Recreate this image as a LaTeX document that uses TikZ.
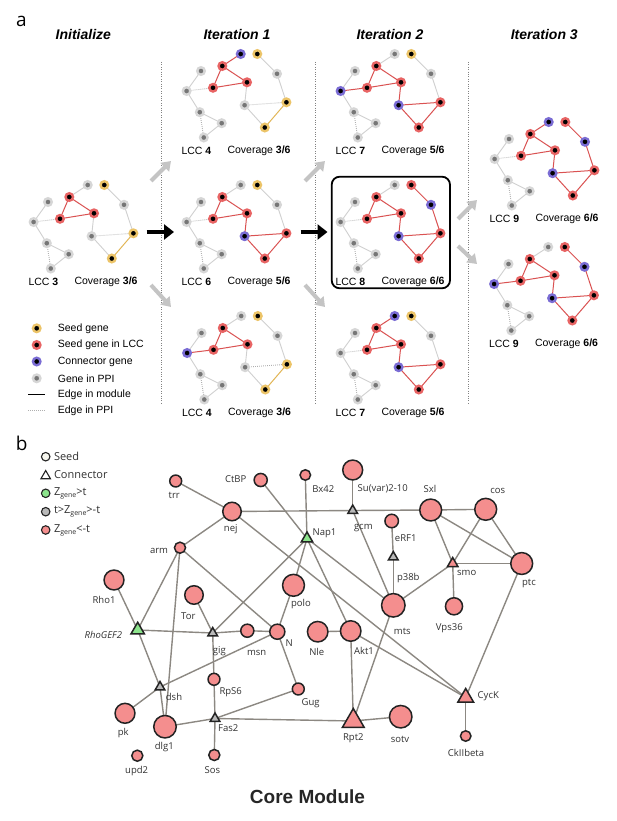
\documentclass[tikz,border=0pt]{standalone}
\usepackage{fontspec}
\newfontfamily\arial{Liberation Sans}
\newfontfamily\osans{Open Sans}
\usetikzlibrary{shapes.geometric,arrows.meta}
\pgfdeclarelayer{back}
\pgfdeclarelayer{bg}
\pgfsetlayers{back,bg,main}
\definecolor{ringgray}{RGB}{214,214,214}
\definecolor{coregray}{RGB}{118,118,118}
\definecolor{ringyel}{RGB}{236,196,104}
\definecolor{ringred}{RGB}{232,100,100}
\definecolor{ringpur}{RGB}{122,108,212}
\definecolor{edgegray}{RGB}{208,208,208}
\definecolor{edgedot}{RGB}{175,175,175}
\definecolor{edgered}{RGB}{218,82,82}
\definecolor{edgeyel}{RGB}{226,182,86}
\definecolor{arrgray}{RGB}{196,196,196}
\definecolor{sepgray}{RGB}{130,130,130}
\definecolor{bpink}{RGB}{244,142,142}
\definecolor{bborder}{RGB}{35,35,35}
\definecolor{bedgec}{RGB}{140,136,130}
\definecolor{bgreen}{RGB}{140,228,140}
\definecolor{btrigray}{RGB}{185,185,185}
\definecolor{bseed}{RGB}{246,246,238}
\definecolor{blabel}{RGB}{50,50,50}
\tikzset{
  anode/.style={circle, inner sep=0pt, minimum size=7.5pt, line width=2.4pt},
  gnode/.style={anode, draw=ringgray, fill=coregray},
  ynode/.style={anode, draw=ringyel, fill=black},
  rnode/.style={anode, draw=ringred, fill=black},
  pnode/.style={anode, draw=ringpur, fill=black},
  ppi/.style={draw=edgegray, line width=0.9pt},
  ppidot/.style={draw=edgedot, line width=0.9pt, dash pattern=on 0.8pt off 1.2pt},
  modred/.style={draw=edgered, line width=1pt},
  modyel/.style={draw=edgeyel, line width=1pt},
  alabel/.style={font=\arial\fontsize{10.5}{12}\selectfont, inner sep=0pt},
  atitle/.style={font=\arial\fontsize{14}{16}\selectfont\bfseries\itshape, inner sep=0pt},
  sepline/.style={draw=sepgray, line width=0.8pt, dash pattern=on 0.8pt off 1.6pt},
  blackarrow/.style={draw=black, line width=4pt, -{Triangle[length=10pt,width=15pt]}},
  grayarrow/.style={draw=arrgray, line width=4pt, -{Triangle[length=9pt,width=12pt]}},
  stB/.style={sg5/.style=pnode, sy2/.style=rnode, sy3/.style=rnode, pe13/.style=modred, pe14/.style=modred, pe15/.style=modred, pe16/.style=modred},
  stC/.style={sg3/.style=pnode, sy1/.style=rnode, pe11/.style=modred, pe12/.style=modred},
  stT/.style={sg1/.style=pnode, pe1/.style=modred},
  stL/.style={sg4/.style=pnode, pe6/.style=modred},
  bcirc/.style={circle, draw=bborder, line width=1.5pt, fill=bpink, inner sep=0pt},
  btri/.style={regular polygon, regular polygon sides=3, draw=bborder, line width=1.5pt, inner sep=0pt},
  btgray/.style={btri, fill=btrigray, minimum size=11pt},
  btgreen/.style={btri, fill=bgreen},
  btred/.style={btri, fill=bpink},
  bedge/.style={draw=bedgec, line width=1.4pt},
  blbl/.style={font=\osans\fontsize{9.5}{11}\selectfont, text=blabel, inner sep=0pt},
  bleg/.style={font=\osans\fontsize{11}{13}\selectfont, text=blabel, inner sep=0pt, anchor=west},
  plabel/.style={font=\osans\fontsize{19}{22}\selectfont, inner sep=0pt},
}
% one network panel of part a
\newcommand\apanel[6]{%
  \begin{scope}[shift={(#2,#3)}]
  \tikzset{sg1/.style=gnode, sy1/.style=ynode, sr1/.style=rnode, sg2/.style=gnode,
    sg3/.style=gnode, sr2/.style=rnode, sr3/.style=rnode, sg4/.style=gnode,
    sg5/.style=gnode, sy2/.style=ynode, sg6/.style=gnode, sg7/.style=gnode,
    sy3/.style=ynode, sg8/.style=gnode,
    pe1/.style=ppi, pe2/.style=modred, pe3/.style=modred, pe4/.style=modred,
    pe5/.style=ppi, pe6/.style=ppidot, pe7/.style=ppi, pe8/.style=ppi,
    pe9/.style=ppidot, pe10/.style=ppi, pe11/.style=ppi, pe12/.style=ppi,
    pe13/.style=ppi, pe14/.style=ppidot, pe15/.style=modyel, pe16/.style=ppi}%
  \tikzset{#6}%
  \node[sg1] (#1g1) at (87.7,185) {};
  \node[sy1] (#1y1) at (104.3,185) {};
  \node[sr1] (#1r1) at (69.3,197) {};
  \node[sg2] (#1g2) at (48,202) {};
  \node[sg3] (#1g3) at (124,204.8) {};
  \node[sr2] (#1r2) at (94,213.3) {};
  \node[sr3] (#1r3) at (60,218.8) {};
  \node[sg4] (#1g4) at (33.6,222) {};
  \node[sg5] (#1g5) at (91.6,236.2) {};
  \node[sy2] (#1y2) at (133.4,233.3) {};
  \node[sg6] (#1g6) at (46.8,243.2) {};
  \node[sg7] (#1g7) at (68.7,254.2) {};
  \node[sy3] (#1y3) at (111.8,258.5) {};
  \node[sg8] (#1g8) at (50.8,268.5) {};
  \begin{pgfonlayer}{bg}
  \draw[pe1] (#1g1.center) -- (#1r1.center);
  \draw[pe2] (#1r1.center) -- (#1r2.center);
  \draw[pe3] (#1r1.center) -- (#1r3.center);
  \draw[pe4] (#1r3.center) -- (#1r2.center);
  \draw[pe5] (#1g2.center) -- (#1g4.center);
  \draw[pe6] (#1g4.center) -- (#1r3.center);
  \draw[pe7] (#1g4.center) -- (#1g6.center);
  \draw[pe8] (#1g6.center) -- (#1g7.center);
  \draw[pe9] (#1g6.center) -- (#1g8.center);
  \draw[pe10] (#1g7.center) -- (#1g8.center);
  \draw[pe11] (#1y1.center) -- (#1g3.center);
  \draw[pe12] (#1g3.center) -- (#1y2.center);
  \draw[pe13] (#1r2.center) -- (#1g5.center);
  \draw[pe14] (#1g5.center) -- (#1y2.center);
  \draw[pe15] (#1y2.center) -- (#1y3.center);
  \draw[pe16] (#1g5.center) -- (#1y3.center);
  \end{pgfonlayer}
  \node[alabel, anchor=west] (#1lcc) at (28.3,282) {LCC \textbf{#4}};
  \node[alabel, anchor=west] (#1cov) at (74.3,282) {Coverage \textbf{#5}};
  \end{scope}}
\begin{document}
\begin{tikzpicture}[x=1pt,y=-1pt]
\useasboundingbox (0,0) rectangle (617,821);
\begin{pgfonlayer}{back}
\fill[white] (0,0) rectangle (617,821);
\end{pgfonlayer}

% ---------------- panel a ----------------
\node[plabel] (la) at (21.3,21) {a};
\node[atitle] (t0) at (83.3,34) {Initialize};
\node[atitle] (t1) at (237,34) {Iteration 1};
\node[atitle] (t2) at (390,34) {Iteration 2};
\node[atitle] (t3) at (544.3,34) {Iteration 3};

\coordinate (s1a) at (161,62); \coordinate (s1b) at (161,403);
\coordinate (s2a) at (315,62); \coordinate (s2b) at (315,403);
\coordinate (s3a) at (468,62); \coordinate (s3b) at (468,403);
\draw[sepline] (s1a) -- (s1b);
\draw[sepline] (s2a) -- (s2b);
\draw[sepline] (s3a) -- (s3b);

\apanel{p0}{0}{0}{3}{3/6}{}
\apanel{p1}{153}{-131}{4}{3/6}{stT}
\apanel{p2}{153}{0}{6}{5/6}{stB}
\apanel{p3}{153.5}{131}{4}{3/6}{stL}
\apanel{p4}{307}{-131}{7}{5/6}{stB,stL}
\apanel{p5}{307}{0}{8}{6/6}{stB,stC}
\apanel{p6}{307}{131}{7}{5/6}{stB,stT}
\apanel{p7}{461}{-63}{9}{6/6}{stB,stC,stT}
\apanel{p8}{460.5}{62}{9}{6/6}{stB,stC,stL}

\draw[line width=1.8pt, rounded corners=8pt] (331.7,176.7) rectangle (450,288.3);

\coordinate (ba1s) at (146.5,232); \coordinate (ba1e) at (174,232);
\coordinate (ba2s) at (300.5,232); \coordinate (ba2e) at (327.5,232);
\draw[blackarrow] (ba1s) -- (ba1e);
\draw[blackarrow] (ba2s) -- (ba2e);
\coordinate (ga1s) at (151,181); \coordinate (ga1e) at (171,161);
\coordinate (ga2s) at (151,285); \coordinate (ga2e) at (171,307);
\coordinate (ga3s) at (305,181); \coordinate (ga3e) at (325,161);
\coordinate (ga4s) at (305,285); \coordinate (ga4e) at (325,307);
\coordinate (ga5s) at (458,219); \coordinate (ga5e) at (477,200);
\coordinate (ga6s) at (458,246); \coordinate (ga6e) at (477,264);
\draw[grayarrow] (ga1s) -- (ga1e);
\draw[grayarrow] (ga2s) -- (ga2e);
\draw[grayarrow] (ga3s) -- (ga3e);
\draw[grayarrow] (ga4s) -- (ga4e);
\draw[grayarrow] (ga5s) -- (ga5e);
\draw[grayarrow] (ga6s) -- (ga6e);

% legend a
\node[ynode] (lga1) at (36.7,328.3) {};
\node[rnode] (lga2) at (36.7,345) {};
\node[pnode] (lga3) at (36.7,361.5) {};
\node[gnode] (lga4) at (36.7,378.3) {};
\coordinate (lm1) at (28,394.5); \coordinate (lm2) at (45,394.5);
\coordinate (lp1) at (28,410.5); \coordinate (lp2) at (45,410.5);
\draw[black, line width=1.5pt] (lm1) -- (lm2);
\draw[ppidot] (lp1) -- (lp2);
\node[alabel, anchor=west] (lta1) at (57.7,328.3) {Seed gene};
\node[alabel, anchor=west] (lta2) at (57.7,345) {Seed gene in LCC};
\node[alabel, anchor=west] (lta3) at (57.7,361.5) {Connector gene};
\node[alabel, anchor=west] (lta4) at (57.7,378.3) {Gene in PPI};
\node[alabel, anchor=west] (lta5) at (57.7,394.5) {Edge in module};
\node[alabel, anchor=west] (lta6) at (57.7,410.5) {Edge in PPI};

% ---------------- panel b ----------------
\node[plabel] (lb) at (21.7,443) {b};
\node[circle, draw=bborder, fill=bseed, line width=1.1pt, minimum size=8.5pt, inner sep=0pt] (lgb1) at (45.7,456.7) {};
\node[regular polygon, regular polygon sides=3, draw=bborder, fill=white, line width=1.1pt, minimum size=11pt, inner sep=0pt] (lgb2) at (45.7,476) {};
\node[circle, draw=bborder, fill=bgreen, line width=1.1pt, minimum size=8.5pt, inner sep=0pt] (lgb3) at (45.7,493.3) {};
\node[circle, draw=bborder, fill=btrigray, line width=1.1pt, minimum size=8.5pt, inner sep=0pt] (lgb4) at (45.7,511.7) {};
\node[circle, draw=bborder, fill=bpink, line width=1.1pt, minimum size=8.5pt, inner sep=0pt] (lgb5) at (45.7,530) {};
\node[bleg] (ltb1) at (53.8,456.7) {Seed};
\node[bleg] (ltb2) at (53.8,475) {Connector};
\node[bleg] (ltb3) at (53.8,493.3) {Z\raisebox{-0.35ex}{\fontsize{7}{8}\selectfont gene}>t};
\node[bleg] (ltb4) at (53.8,511.7) {t>Z\raisebox{-0.35ex}{\fontsize{7}{8}\selectfont gene}>-t};
\node[bleg] (ltb5) at (53.8,530) {Z\raisebox{-0.35ex}{\fontsize{7}{8}\selectfont gene}<-t};

% circles
\node[bcirc, minimum size=11.9pt] (trr) at (175.7,481) {};
\node[bcirc, minimum size=13.1pt] (ctbp) at (260.7,480) {};
\node[bcirc, minimum size=10.5pt] (bx42) at (305.3,475) {};
\node[bcirc, minimum size=19.9pt] (suvar) at (352.7,470) {};
\node[bcirc, minimum size=18.5pt] (nej) at (232,511.5) {};
\node[bcirc, minimum size=21.9pt] (sxl) at (430.7,510) {};
\node[bcirc, minimum size=21.9pt] (cos) at (485.7,509.3) {};
\node[bcirc, minimum size=13.5pt] (erf1) at (391.7,521) {};
\node[bcirc, minimum size=11.1pt] (arm) at (180,547.7) {};
\node[bcirc, minimum size=21.9pt] (ptc) at (521.7,563.5) {};
\node[bcirc, minimum size=19.9pt] (rho1) at (114,580) {};
\node[bcirc, minimum size=21.9pt] (polo) at (293.5,585.3) {};
\node[bcirc, minimum size=18.5pt] (tor) at (194,595) {};
\node[bcirc, minimum size=23.5pt] (mts) at (393.3,605.3) {};
\node[bcirc, minimum size=17.1pt] (vps36) at (454,606.3) {};
\node[bcirc, minimum size=13.1pt] (msn) at (247.3,630.7) {};
\node[bcirc, minimum size=15.1pt] (n) at (277.3,631.7) {};
\node[bcirc, minimum size=20.5pt] (nle) at (317.7,631.7) {};
\node[bcirc, minimum size=20.5pt] (akt1) at (350.7,631) {};
\node[bcirc, minimum size=11.9pt] (rps6) at (214,679.3) {};
\node[bcirc, minimum size=11.9pt] (gug) at (298.3,689) {};
\node[bcirc, minimum size=19.9pt] (pk) at (125,713.3) {};
\node[bcirc, minimum size=22.5pt] (dlg1) at (165,726.7) {};
\node[bcirc, minimum size=22.5pt] (sotv) at (400.7,716.7) {};
\node[bcirc, minimum size=10.5pt] (ck2b) at (465.7,736) {};
\node[bcirc, minimum size=11.1pt] (upd2) at (137.3,755.7) {};
\node[bcirc, minimum size=11.1pt] (sos) at (214.3,755) {};
% triangles
\node[btgray] (gcm) at (352.7,510.5) {};
\node[btgreen, minimum size=13pt] (nap1) at (307,538.5) {};
\node[btgray] (p38b) at (393.3,557) {};
\node[btred, minimum size=12pt] (smo) at (452.7,563.5) {};
\node[btgreen, minimum size=15.5pt] (rhogef2) at (137.7,630) {};
\node[btgray] (gig) at (212.7,633) {};
\node[btgray] (dsh) at (160,687) {};
\node[btgray] (fas2) at (215,718.5) {};
\node[btred, minimum size=18pt] (cyck) at (465.7,697.5) {};
\node[btred, minimum size=25pt] (rpt2) at (353.3,721) {};

\begin{pgfonlayer}{bg}
\foreach \a/\b in {trr/nej, nej/arm, nej/gcm, gcm/sxl, nej/cyck, ctbp/nap1, bx42/nap1,
  nap1/polo, nap1/gig, nap1/akt1, nap1/mts, gcm/suvar, gcm/mts, erf1/p38b, p38b/mts,
  mts/smo, mts/rpt2, smo/vps36, smo/ptc, smo/sxl, smo/cos, sxl/cos, sxl/ptc, cos/ptc,
  ptc/cyck, cyck/ck2b, akt1/cyck, nle/akt1, akt1/rpt2, rpt2/sotv, fas2/rpt2,
  arm/rhogef2, arm/dlg1, arm/n, rho1/rhogef2, rhogef2/gig, gig/msn, msn/n, tor/gig,
  gig/rps6, rps6/fas2, fas2/sos, fas2/dlg1, fas2/gug, gug/n, n/polo, dsh/n,
  rhogef2/dsh, dsh/pk, dsh/dlg1}
  \draw[bedge] (\a.center) -- (\b.center);
\end{pgfonlayer}

% labels b
\node[blbl] (l-trr) at (174.3,495.5) {trr};
\node[blbl] (l-ctbp) at (235.7,479) {CtBP};
\node[blbl] (l-bx42) at (323.3,489) {Bx42};
\node[blbl] (l-suvar) at (382.7,489) {Su(var)2-10};
\node[blbl] (l-nej) at (230.7,529.5) {nej};
\node[blbl] (l-sxl) at (430,489) {Sxl};
\node[blbl] (l-cos) at (497.7,491) {cos};
\node[blbl] (l-erf1) at (405.7,537.7) {eRF1};
\node[blbl] (l-gcm) at (363.3,528.3) {gcm};
\node[blbl] (l-nap1) at (324.5,533.3) {Nap1};
\node[blbl] (l-arm) at (159,550.7) {arm};
\node[blbl] (l-p38b) at (408.3,577.7) {p38b};
\node[blbl] (l-smo) at (466.7,573.3) {smo};
\node[blbl] (l-ptc) at (529,583.3) {ptc};
\node[blbl] (l-rho1) at (104,600) {Rho1};
\node[blbl] (l-polo) at (301,604.3) {polo};
\node[blbl] (l-tor) at (188.3,615.7) {Tor};
\node[blbl] (l-mts) at (402.3,631.7) {mts};
\node[blbl] (l-vps36) at (449.3,627.7) {Vps36};
\node[blbl, font=\osans\itshape\fontsize{9.5}{11}\selectfont] (l-rhogef2) at (103.3,635) {RhoGEF2};
\node[blbl] (l-gig) at (219.3,650.7) {gig};
\node[blbl] (l-msn) at (256.7,652.7) {msn};
\node[blbl] (l-n) at (289.3,642.7) {N};
\node[blbl] (l-nle) at (316.7,651.7) {Nle};
\node[blbl] (l-akt1) at (364,650.7) {Akt1};
\node[blbl] (l-dsh) at (174,696.7) {dsh};
\node[blbl] (l-rps6) at (230.7,691.7) {RpS6};
\node[blbl] (l-gug) at (310.7,703.3) {Gug};
\node[blbl] (l-cyck) at (488.3,696) {CycK};
\node[blbl] (l-pk) at (123.3,732.7) {pk};
\node[blbl] (l-dlg1) at (164.3,746.7) {dlg1};
\node[blbl] (l-fas2) at (228.3,728.3) {Fas2};
\node[blbl] (l-rpt2) at (353.3,738.3) {Rpt2};
\node[blbl] (l-sotv) at (400,739) {sotv};
\node[blbl] (l-ck2b) at (466,752.7) {CkIIbeta};
\node[blbl] (l-upd2) at (136.7,771) {upd2};
\node[blbl] (l-sos) at (212.3,770) {Sos};

\node[font=\arial\bfseries\fontsize{19}{22}\selectfont, text=black!85, inner sep=0pt] (core) at (307.5,797) {Core Module};
\end{tikzpicture}
\end{document}
